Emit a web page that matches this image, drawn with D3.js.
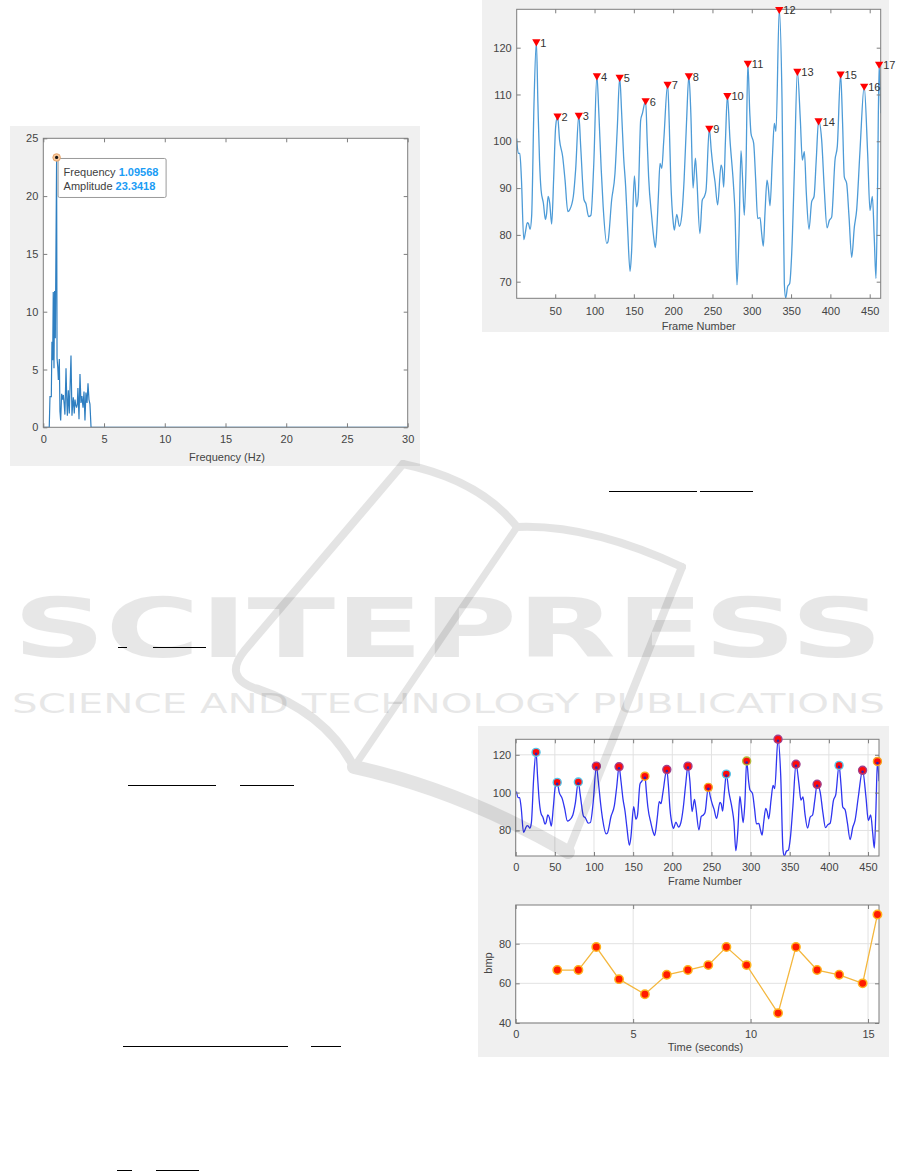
<!DOCTYPE html>
<html>
<head>
<meta charset="utf-8">
<script src="https://cdn.jsdelivr.net/npm/d3@7"></script>
<style>
  html, body { margin: 0; padding: 0; background: #fff; }
  svg { display: block; }
</style>
</head>
<body>
<svg id="page" width="901" height="1171"></svg>
<script>
// ---------------- data ----------------
// Amplitude spectrum of the pulse signal
const spectrumFreq = [0, 0.49, 0.55, 0.66, 0.71, 0.77, 0.82, 0.88, 0.93, 0.99, 1.09568, 1.13, 1.19, 1.24, 1.32, 1.37, 1.43, 1.51, 1.58, 1.65, 1.72, 1.78, 1.87, 1.93, 1.98, 2.06, 2.14, 2.2, 2.28, 2.36, 2.42, 2.47, 2.55, 2.61, 2.66, 2.74, 2.8, 2.85, 2.94, 3.02, 3.1, 3.18, 3.27, 3.35, 3.43, 3.51, 3.6, 3.68, 3.76, 3.84, 3.93, 30];
const spectrumAmp  = [0, 0, 2.65, 2.65, 7.4, 5.8, 11.7, 5.1, 11.8, 7.7, 23.3418, 6.0, 5.2, 4.1, 5.9, 1.4, 0.6, 2.9, 2.4, 2.8, 2.0, 1.1, 5.1, 2.5, 1.0, 3.2, 1.2, 3.4, 6.2, 1.0, 2.0, 2.6, 1.2, 2.4, 2.0, 1.7, 2.0, 3.4, 0.7, 4.6, 2.1, 2.7, 1.7, 3.1, 0.6, 3.0, 2.1, 3.8, 2.4, 2.0, 0, 0];
const dominantFreq = 1.09568;
const dominantAmp = 23.3418;
const freqTicks = [0, 5, 10, 15, 20, 25, 30];
const ampTicks = [0, 5, 10, 15, 20, 25];

// Filtered signal per frame
const signalFrames = [1,3,5,7,10,12,14.5,16,18,20,23,26,28,30,32,35,37.5,39,41,43,45.5,48,50.5,53,55.5,59.5,62.5,66,68.5,73,76,80,82.4,86.6,89,92.5,95.4,99,103,105.5,108.5,111,115.5,117,121.8,126,129,132,134.5,137,139.6,142,145.2,147,150.7,153.5,155.5,158.7,161,165,167,168.8,172.7,175.7,177.4,179,181.2,183.3,185.5,188,193,195,197,200.2,201.5,204.6,208,211,214,217,220,222.5,225.3,228.3,230,234,237,239.7,241.8,246,248.5,251.1,253.2,256.6,260.9,262.5,264.3,266.5,269,272.3,276.6,278.7,281.2,283.8,286.3,288,290.5,292.7,295,297.5,299,302.4,305,307.5,310.5,312.6,314.7,316.8,319.4,321.1,323.2,326.2,328.7,330.8,335,338.5,341.4,343.1,345.7,348.2,350.8,354.1,358,361.8,364.3,366.9,369.4,372.8,376.2,379.2,382,385,388.9,392.3,395.7,398.7,401.6,405.9,408.8,413,415.5,417.7,420.7,423.7,427.1,430.5,433.4,437.7,443,447.4,450.4,453.4,455.9,458,460,462,464];
const signalValues = [100.6,97.4,97.4,92,79.0,80.5,82.6,82.4,81.2,84,108,121.3,108,96,89.6,86.7,83.3,84.5,88.2,86.8,82.3,92,103,105.4,100.3,96.7,91.7,85,85.4,88.2,94,105.6,98.9,87.5,86.7,83.9,84.2,95,114,106,94,86,78.2,78.5,87.5,93.1,103,113.7,106,96.7,90.3,81.8,72.2,76,92.6,86.0,88,104.5,106,108.7,100,92.4,83.9,78.9,77.3,80.5,88.2,95.3,94.2,100,112.2,104,91.7,82.5,81,84.4,81.8,84.2,92,104,114,106,90,96.4,92.4,80.3,87.4,88.2,89.5,102.8,98,93.9,91.4,86.4,94.9,94,90.2,100,109.8,100.3,91,84.6,69.3,80.3,98,93.1,84.2,94.6,116.7,106,101.7,99.6,91.7,83.5,83.7,80.3,77.6,84.6,91.7,90,86.2,96.4,103.8,102.1,128.2,108.8,69.6,66.5,69,69.6,76,93.1,115,104.5,96,97.8,88.9,81.2,87.1,88.2,96,104.4,100.3,89.6,81.5,83.1,83.8,96,98.9,114.4,104,92.4,91,83.9,75.2,81.7,85.3,98.1,111.8,97.4,85.2,88.2,78.9,70.7,90,116.5,106];

// Detected peaks
const peakFrames = [26, 53, 80, 103, 132, 165, 193, 220, 246, 269, 295, 335, 358, 385, 413, 443, 462];
const peakValues = [121.3, 105.4, 105.6, 114, 113.7, 108.7, 112.2, 114, 102.8, 109.8, 116.7, 128.2, 115, 104.4, 114.4, 111.8, 116.5];
const peakLabels = ["1","2","3","4","5","6","7","8","9","10","11","12","13","14","15","16","17"];
const frameTicks = [50, 100, 150, 200, 250, 300, 350, 400, 450];
const frameTicksFull = [0, 50, 100, 150, 200, 250, 300, 350, 400, 450];
const signalTicks = [70, 80, 90, 100, 110, 120];
const signalTicksCoarse = [80, 100, 120];

// Beat-to-beat heart rate
const bpmTimes  = [1.77, 2.67, 3.43, 4.4, 5.5, 6.43, 7.33, 8.2, 8.97, 9.83, 11.17, 11.93, 12.83, 13.77, 14.77, 15.4];
const bpmValues = [66.7, 66.7, 78.3, 62.1, 54.5, 64.3, 66.7, 69.2, 78.3, 69.2, 45.0, 78.3, 66.7, 64.3, 60.0, 94.7];
const timeTicks = [0, 5, 10, 15];
const bpmTicks = [40, 60, 80];

// marker edge tints in the combined figure
const markerEdges = ["#55c6ea","#55c6ea","#55c6ea","#a0428f","#a0428f","#f5a623","#a0428f","#a0428f","#f5a623","#55c6ea","#b5b83a","#a0428f","#a0428f","#a0428f","#55c6ea","#a0428f","#f5a623"];

// ---------------- drawing ----------------
const FONT = "'Liberation Sans', Arial, Helvetica, sans-serif";
const AXIS = "#7d7d7d";
const TXT = "#444";
const PANEL = "#f0f0f0";
const svg = d3.select("#page");
svg.append("rect").attr("width", 901).attr("height", 1171).attr("fill", "#fff");
const defs = svg.append("defs");

function panel(x, y, w, h) {
  svg.append("rect").attr("x", x).attr("y", y).attr("width", w).attr("height", h).attr("fill", PANEL);
}

let clipId = 0;
function plotArea(x, y, o) {
  const [xa, xb] = x.range(), [yb, ya] = y.range();
  const g = svg.append("g");
  g.append("rect").attr("x", xa).attr("y", ya).attr("width", xb - xa).attr("height", yb - ya).attr("fill", "#fff");
  if (o.grid) {
    g.append("g").selectAll("line").data(o.xTicks).join("line")
      .attr("x1", d => x(d)).attr("x2", d => x(d)).attr("y1", ya).attr("y2", yb)
      .attr("stroke", "#e2e2e2").attr("stroke-width", 1);
    g.append("g").selectAll("line").data(o.yTicks).join("line")
      .attr("y1", d => y(d)).attr("y2", d => y(d)).attr("x1", xa).attr("x2", xb)
      .attr("stroke", "#e2e2e2").attr("stroke-width", 1);
  }
  const id = "clip" + (clipId++);
  defs.append("clipPath").attr("id", id).append("rect")
    .attr("x", xa).attr("y", ya).attr("width", xb - xa).attr("height", yb - ya);
  const data = g.append("g").attr("clip-path", `url(#${id})`);
  const axes = g.append("g");
  const tl = 4;
  const fmt = o.fmt || (d => d);
  const add = (axis, tr) => axes.append("g").attr("transform", tr).call(axis).call(s => s.select(".domain").remove());
  add(d3.axisBottom(x).tickValues(o.xTicks).tickSizeInner(-tl).tickSizeOuter(0).tickPadding(o.xPad).tickFormat(fmt), `translate(0,${yb})`);
  add(d3.axisLeft(y).tickValues(o.yTicks).tickSizeInner(-tl).tickSizeOuter(0).tickPadding(o.yPad).tickFormat(fmt), `translate(${xa},0)`);
  add(d3.axisTop(x).tickValues(o.xTicks).tickSizeInner(-tl).tickSizeOuter(0).tickFormat(() => ""), `translate(0,${ya})`);
  add(d3.axisRight(y).tickValues(o.yTicks).tickSizeInner(-tl).tickSizeOuter(0).tickFormat(() => ""), `translate(${xb},0)`);
  axes.selectAll(".tick line").attr("stroke", AXIS).attr("stroke-width", 1);
  axes.selectAll(".tick text").attr("fill", TXT).attr("font-size", 11).attr("font-family", FONT);
  axes.append("rect").attr("x", xa).attr("y", ya).attr("width", xb - xa).attr("height", yb - ya)
    .attr("fill", "none").attr("stroke", AXIS).attr("stroke-width", 1);
  const top = g.append("g");
  return { data, top, g };
}

function label(text, x, y, rotate) {
  const t = svg.append("text").attr("x", x).attr("y", y).attr("text-anchor", "middle")
    .attr("dominant-baseline", "central").attr("font-family", FONT).attr("font-size", 11).attr("fill", TXT).text(text);
  if (rotate) t.attr("transform", `rotate(-90,${x},${y})`);
  return t;
}

// ---- spectrum chart ----
panel(10, 126, 410, 340);
{
  const x = d3.scaleLinear().domain([0, 30]).range([43.3, 407.7]);
  const y = d3.scaleLinear().domain([0, 25]).range([427.3, 138.3]);
  const p = plotArea(x, y, { xTicks: freqTicks, yTicks: ampTicks, xPad: 8, yPad: 5 });
  p.data.append("path").datum(d3.zip(spectrumFreq, spectrumAmp))
    .attr("d", d3.line().x(d => x(d[0])).y(d => y(d[1])))
    .attr("fill", "none").attr("stroke", "#2f7fc1").attr("stroke-width", 1.2);
  label("Frequency (Hz)", 227, 457);

  // data tip
  const tx = x(dominantFreq), ty = y(dominantAmp);
  const tip = p.top.append("g").attr("transform", `translate(${tx},${ty})`);
  tip.append("rect").attr("x", 1.5).attr("y", 1).attr("width", 108).attr("height", 39).attr("rx", 1.5)
    .attr("fill", "#fff").attr("fill-opacity", 0.95).attr("stroke", "#9a9a9a").attr("stroke-width", 1);
  const lines = [["Frequency ", String(dominantFreq)], ["Amplitude ", String(dominantAmp)]];
  lines.forEach((l, i) => {
    const t = tip.append("text").attr("x", 7).attr("y", 18.5 + i * 14)
      .attr("font-family", FONT).attr("font-size", 11).attr("fill", "#404040");
    t.append("tspan").text(l[0]);
    t.append("tspan").attr("fill", "#1a9cf5").attr("font-weight", "bold").text(l[1]);
  });
  tip.append("circle").attr("r", 3.8).attr("fill", "#f6c79c").attr("stroke", "#e39a5a").attr("stroke-width", 0.8);
  tip.append("circle").attr("r", 1.6).attr("fill", "#111");
}

// ---- peak detection chart ----
panel(482, 0, 407, 332);
{
  const x = d3.scaleLinear().domain([1, 464]).range([516.7, 880.7]);
  const y = d3.scaleLinear().domain([66.45, 128.2]).range([298.3, 9.3]);
  const p = plotArea(x, y, { xTicks: frameTicks, yTicks: signalTicks, xPad: 9, yPad: 5 });
  p.data.append("path").datum(d3.zip(signalFrames, signalValues))
    .attr("d", d3.line().x(d => x(d[0])).y(d => y(d[1])).curve(d3.curveMonotoneX))
    .attr("fill", "none").attr("stroke", "#4d9bd7").attr("stroke-width", 1.3);
  const peaks = d3.zip(peakFrames, peakValues, peakLabels);
  const tri = d3.symbol(d3.symbolTriangle, 30);
  p.top.selectAll("path.pk").data(peaks).join("path").attr("class", "pk")
    .attr("d", tri).attr("transform", d => `translate(${x(d[0])},${y(d[1])}) rotate(180)`)
    .attr("fill", "#ff0000");
  p.top.selectAll("text.pk").data(peaks).join("text").attr("class", "pk")
    .attr("x", d => x(d[0]) + 4).attr("y", d => y(d[1]) + 5)
    .attr("font-family", FONT).attr("font-size", 11).attr("fill", "#333").text(d => d[2]);
  label("Frame Number", 698.7, 326);
}

// ---- combined figure: signal with peaks, and heart rate ----
panel(478, 726, 411, 331);
{
  const x = d3.scaleLinear().domain([0, 464]).range([515.7, 879]);
  const y = d3.scaleLinear().domain([66.5, 128.2]).range([856, 739.3]);
  const p = plotArea(x, y, { xTicks: frameTicksFull, yTicks: signalTicksCoarse, xPad: 7.5, yPad: 4.5, grid: true });
  p.data.append("path").datum(d3.zip(signalFrames, signalValues))
    .attr("d", d3.line().x(d => x(d[0])).y(d => y(d[1])).curve(d3.curveMonotoneX))
    .attr("fill", "none").attr("stroke", "#2f35f0").attr("stroke-width", 1.3);
  const peaks = d3.zip(peakFrames, peakValues, markerEdges);
  p.top.selectAll("circle.pk").data(peaks).join("circle").attr("class", "pk")
    .attr("cx", d => x(d[0])).attr("cy", d => y(d[1])).attr("r", 4)
    .attr("fill", "#ff0a0a").attr("stroke", d => d[2]).attr("stroke-width", 1.4);
  p.top.selectAll("circle.dot").data(peaks).join("circle").attr("class", "dot")
    .attr("cx", d => x(d[0])).attr("cy", d => y(d[1]) + 1.5).attr("r", 1.3)
    .attr("fill", "#2a22b8");
  label("Frame Number", 705, 880.5);
}
{
  const x = d3.scaleLinear().domain([0, 464 / 30]).range([515.7, 879]);
  const y = d3.scaleLinear().domain([40, 99.5]).range([1023, 905]);
  const p = plotArea(x, y, { xTicks: timeTicks, yTicks: bpmTicks, xPad: 7.3, yPad: 4.5, grid: true });
  const pts = d3.zip(bpmTimes, bpmValues);
  p.data.append("path").datum(pts)
    .attr("d", d3.line().x(d => x(d[0])).y(d => y(d[1])))
    .attr("fill", "none").attr("stroke", "#f4b73e").attr("stroke-width", 1.3);
  p.top.selectAll("circle").data(pts).join("circle")
    .attr("cx", d => x(d[0])).attr("cy", d => y(d[1])).attr("r", 4.2)
    .attr("fill", "#ff1a00").attr("stroke", "#ffb21e").attr("stroke-width", 1.5);
  label("Time (seconds)", 705.5, 1047);
  label("bmp", 487.5, 963, true);
}

// ---- fraction bars of the surrounding equations ----
const rules = [
  [609, 697, 491], [700, 753, 491],
  [118, 127, 647], [153, 206, 647],
  [128, 216, 785], [240, 294, 785],
  [123, 288, 1046], [311, 341, 1046],
  [117, 132, 1170], [156, 199, 1170]
];
svg.append("g").selectAll("line").data(rules).join("line")
  .attr("x1", d => d[0]).attr("x2", d => d[1]).attr("y1", d => d[2] + 0.5).attr("y2", d => d[2] + 0.5)
  .attr("stroke", "#000").attr("stroke-width", 1);

// ---- publisher watermark ----
const wm = svg.append("g").attr("pointer-events", "none").attr("opacity", 0.09);
wm.append("text").attr("x", 13).attr("y", 657)
  .attr("font-family", "'DejaVu Sans', sans-serif").attr("font-weight", "bold").attr("font-size", 82)
  .attr("textLength", 870).attr("lengthAdjust", "spacingAndGlyphs")
  .attr("fill", "#000").text("SCITEPRESS");
wm.append("text").attr("x", 12).attr("y", 713)
  .attr("font-family", "'DejaVu Sans', sans-serif").attr("font-size", 27)
  .attr("textLength", 873).attr("lengthAdjust", "spacingAndGlyphs")
  .attr("fill", "#000").text("SCIENCE AND TECHNOLOGY PUBLICATIONS");
const logo = [
  ["M403,464 L245,650 Q222,678 257,689", 8],
  ["M257,689 Q325,712 354,767", 9],
  ["M403,464 Q480,480 517,527", 8],
  ["M517,527 Q590,524 682,567", 8],
  ["M682,567 L568,852", 8],
  ["M517,527 L354,767", 7],
  ["M354,767 Q460,790 568,852", 14]
];
const logoG = svg.append("g").attr("pointer-events", "none").attr("opacity", 0.1);
logoG.selectAll("path").data(logo).join("path")
  .attr("d", d => d[0]).attr("fill", "none").attr("stroke", "#000")
  .attr("stroke-width", d => d[1]).attr("stroke-linecap", "round").attr("stroke-linejoin", "round");
</script>
</body>
</html>
